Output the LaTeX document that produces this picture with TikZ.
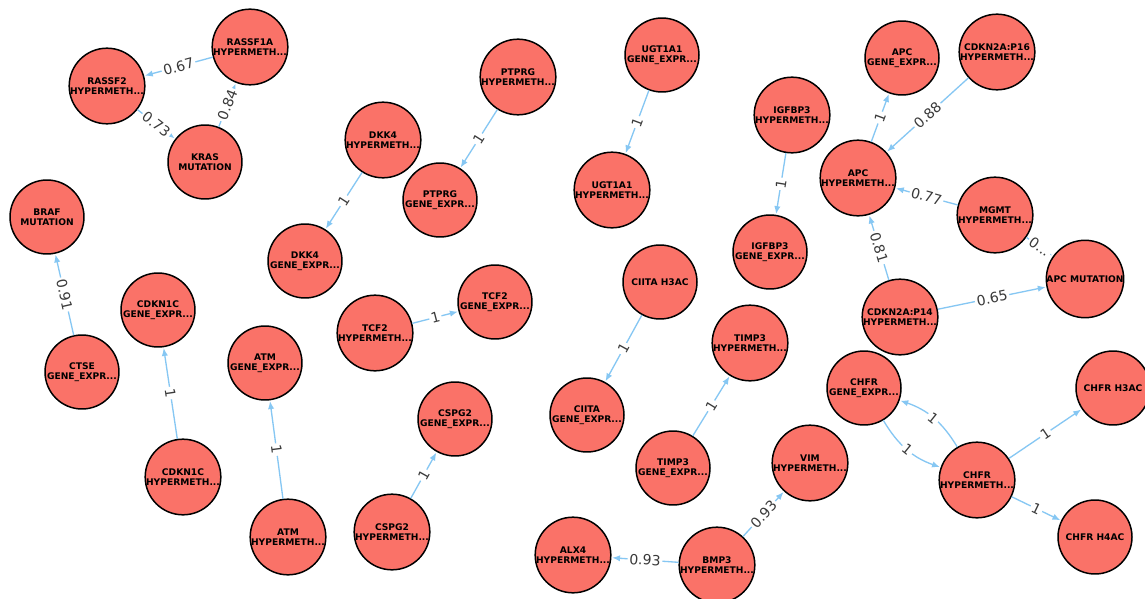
\documentclass[tikz,border=0pt]{standalone}
\usepackage{fontspec}
\setmainfont{DejaVu Sans}
\usepackage{tikz}
\usetikzlibrary{arrows.meta}
\definecolor{GNFill}{HTML}{FA7268}
\definecolor{GNEdge}{HTML}{86C7F3}
\definecolor{GNText}{HTML}{3A3A3A}
\tikzset{
  gene/.style={circle,draw=black,line width=.85pt,fill=GNFill,minimum size=1.48cm,inner sep=0pt,
    align=center,font=\fontsize{5.2}{5.6}\selectfont\bfseries},
  link/.style={GNEdge,line width=.75pt,-{Latex[length=4.5pt,width=3.6pt]},shorten >=.4pt},
  wt/.style={sloped,fill=white,inner sep=1pt,text=GNText,font=\fontsize{8}{8}\selectfont}
}

\begin{document}
\begin{tikzpicture}[x=0.02cm,y=-0.02cm]
\path[use as bounding box] (0,0) rectangle (1145,598);
\fill[white] (0,0) rectangle (1145,598);
% first cluster
\node[gene] (rassfa) at (250,47) {RASSF1A\\HYPERMETH...};
\node[gene] (rassf2) at (107,86) {RASSF2\\HYPERMETH...};
\node[gene] (kras) at (205,162) {KRAS\\MUTATION};
\node[gene] (ptprgh) at (518,77) {PTPRG\\HYPERMETH...};
\node[gene] (ptprge) at (440,200) {PTPRG\\GENE\_EXPR...};
\node[gene] (dkkh) at (383,140) {DKK4\\HYPERMETH...};
\node[gene] (dkke) at (305,261) {DKK4\\GENE\_EXPR...};
\node[gene] (ugte) at (662,55) {UGT1A1\\GENE\_EXPR...};
\node[gene] (ugth) at (612,190) {UGT1A1\\HYPERMETH...};
\node[gene] (igfh) at (792,115) {IGFBP3\\HYPERMETH...};
\node[gene] (igfe) at (770,252) {IGFBP3\\GENE\_EXPR...};
% apc group
\node[gene] (apce) at (902,58) {APC\\GENE\_EXPR...};
\node[gene] (psixteen) at (997,52) {CDKN2A:P16\\HYPERMETH...};
\node[gene] (apch) at (858,178) {APC\\HYPERMETH...};
\node[gene] (mgmt) at (995,215) {MGMT\\HYPERMETH...};
\node[gene] (apcm) at (1085,279) {APC MUTATION};
\node[gene] (pfourteen) at (900,317) {CDKN2A:P14\\HYPERMETH...};
% left side
\node[gene] (braf) at (47,217) {BRAF\\MUTATION};
\node[gene] (ctse) at (82,372) {CTSE\\GENE\_EXPR...};
\node[gene] (cdkne) at (158,310) {CDKN1C\\GENE\_EXPR...};
\node[gene] (cdknh) at (183,477) {CDKN1C\\HYPERMETH...};
\node[gene] (atme) at (265,363) {ATM\\GENE\_EXPR...};
\node[gene] (atmh) at (288,537) {ATM\\HYPERMETH...};
\node[gene] (tcfh) at (375,333) {TCF2\\HYPERMETH...};
\node[gene] (tcfe) at (495,302) {TCF2\\GENE\_EXPR...};
\node[gene] (cspge) at (455,419) {CSPG2\\GENE\_EXPR...};
\node[gene] (cspgh) at (392,532) {CSPG2\\HYPERMETH...};
% middle bottom
\node[gene] (ciitaac) at (660,282) {CIITA H3AC};
\node[gene] (ciitae) at (587,415) {CIITA\\GENE\_EXPR...};
\node[gene] (timph) at (750,343) {TIMP3\\HYPERMETH...};
\node[gene] (timpe) at (673,468) {TIMP3\\GENE\_EXPR...};
\node[gene] (vim) at (810,463) {VIM\\HYPERMETH...};
\node[gene] (alx) at (573,555) {ALX4\\HYPERMETH...};
\node[gene] (bmp) at (717,565) {BMP3\\HYPERMETH...};
% chfr group
\node[gene] (chfre) at (864,388) {CHFR\\GENE\_EXPR...};
\node[gene] (chfrthree) at (1113,388) {CHFR H3AC};
\node[gene] (chfrh) at (977,480) {CHFR\\HYPERMETH...};
\node[gene] (chfrfour) at (1095,537) {CHFR H4AC};
% edges
\draw[link] (rassfa) -- node[wt] {0.67} (rassf2);
\draw[link] (rassf2) -- node[wt] {0.73} (kras);
\draw[link] (kras) -- node[wt] {0.84} (rassfa);
\draw[link] (ptprgh) -- node[wt] {1} (ptprge);
\draw[link] (dkkh) -- node[wt] {1} (dkke);
\draw[link] (ugte) -- node[wt] {1} (ugth);
\draw[link] (igfh) -- node[wt] {1} (igfe);
\draw[link] (apch) -- node[wt] {1} (apce);
\draw[link] (psixteen) -- node[wt] {0.88} (apch);
\draw[link] (mgmt) -- node[wt] {0...} (apcm);
\draw[link] (mgmt) -- node[wt] {0.77} (apch);
\draw[link] (pfourteen) -- node[wt] {0.81} (apch);
\draw[link] (pfourteen) -- node[wt] {0.65} (apcm);
\draw[link] (ctse) -- node[wt] {0.91} (braf);
\draw[link] (cdknh) -- node[wt] {1} (cdkne);
\draw[link] (atmh) -- node[wt] {1} (atme);
\draw[link] (tcfh) -- node[wt] {1} (tcfe);
\draw[link] (cspgh) -- node[wt] {1} (cspge);
\draw[link] (ciitaac) -- node[wt] {1} (ciitae);
\draw[link] (timpe) -- node[wt] {1} (timph);
\draw[link] (bmp) -- node[wt] {0.93} (vim);
\draw[link] (bmp) -- node[wt] {0.93} (alx);
\draw[link] (chfrh) to[bend right=20] node[wt] {1} (chfre);
\draw[link] (chfre) to[bend right=20] node[wt] {1} (chfrh);
\draw[link] (chfrh) -- node[wt] {1} (chfrthree);
\draw[link] (chfrh) -- node[wt] {1} (chfrfour);
\end{tikzpicture}
\end{document}
